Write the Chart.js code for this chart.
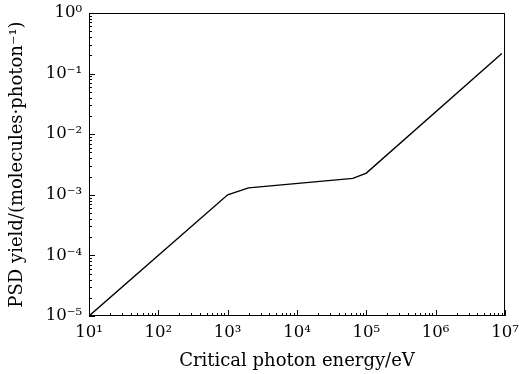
<!DOCTYPE html>
<html>
<head>
<meta charset="utf-8">
<script src="https://cdn.jsdelivr.net/npm/chart.js@4/dist/chart.umd.min.js"></script>
<style>
  html, body { margin: 0; padding: 0; background: #fff; }
  #wrap { width: 519px; height: 374px; }
</style>
</head>
<body>
<div id="wrap"><canvas id="psdChart" width="519" height="374"></canvas></div>
<script>
// ---- data ----
const energy = [10, 1000, 2000, 64000, 100000, 9000000];          // eV
const psdYield = [1e-5, 1e-3, 1.3e-3, 1.87e-3, 2.28e-3, 0.215];   // molecules/photon

// ---- axis ticks ----
const xDecades = [1, 2, 3, 4, 5, 6, 7];
const yDecades = [-5, -4, -3, -2, -1, 0];
const minorSteps = [1, 2, 3, 4, 5, 6, 7, 8, 9];

const supMap = { '0': '⁰', '1': '¹', '2': '²', '3': '³', '4': '⁴', '5': '⁵', '6': '⁶', '7': '⁷', '8': '⁸', '9': '⁹', '-': '⁻' };
function powLabel(e) {
  return '10' + String(e).split('').map(c => supMap[c]).join('');
}

function buildTicks(decades) {
  const out = [];
  decades.forEach((d, i) => {
    if (i === decades.length - 1) {
      out.push({ value: Math.pow(10, d), major: true });
      return;
    }
    minorSteps.forEach(m => {
      out.push({ value: m * Math.pow(10, d), major: m === 1 });
    });
  });
  return out;
}

function labelFor(value) {
  const e = Math.round(Math.log10(value));
  return Math.abs(value - Math.pow(10, e)) < 1e-9 * Math.pow(10, e) ? powLabel(e) : '';
}

const FONT = "'DejaVu Serif', 'Liberation Serif', serif";

// frame + inward ticks drawn from the scales
const frameTicks = {
  id: 'frameTicks',
  afterDraw(chart) {
    const { ctx, chartArea: a, scales } = chart;
    ctx.save();
    ctx.strokeStyle = '#000';
    ctx.lineWidth = 1;
    ctx.strokeRect(a.left + 0.5, a.top + 0.5, a.right - a.left - 1, a.bottom - a.top - 1);
    ctx.beginPath();
    scales.x.ticks.forEach(t => {
      const px = Math.round(scales.x.getPixelForValue(t.value)) + 0.5;
      const len = t.major ? 6 : 3;
      ctx.moveTo(px, a.bottom);
      ctx.lineTo(px, a.bottom - len);
    });
    scales.y.ticks.forEach(t => {
      const py = Math.round(scales.y.getPixelForValue(t.value)) + 0.5;
      const len = t.major ? 6 : 3;
      ctx.moveTo(a.left, py);
      ctx.lineTo(a.left + len, py);
    });
    ctx.stroke();
    ctx.restore();
  }
};

new Chart(document.getElementById('psdChart'), {
  type: 'line',
  data: {
    datasets: [{
      data: energy.map((e, i) => ({ x: e, y: psdYield[i] })),
      borderColor: '#000',
      borderWidth: 1.4,
      pointRadius: 0,
      tension: 0,
      fill: false
    }]
  },
  options: {
    responsive: false,
    animation: false,
    layout: { padding: { left: 7, right: 14, top: 13, bottom: 2 } },
    plugins: { legend: { display: false }, tooltip: { enabled: false } },
    scales: {
      x: {
        type: 'logarithmic',
        min: 10,
        max: 1e7,
        afterBuildTicks: s => { s.ticks = buildTicks(xDecades); },
        afterFit: s => { s.height = 56; s.paddingLeft = 0; s.paddingRight = 0; },
        grid: { display: false, drawTicks: false },
        border: { display: false },
        ticks: {
          autoSkip: false,
          maxRotation: 0,
          padding: 7,
          color: '#000',
          font: { family: FONT, size: 16.5 },
          callback: v => labelFor(v)
        },
        title: {
          display: true,
          text: 'Critical photon energy/eV',
          color: '#000',
          font: { family: FONT, size: 18 },
          padding: { top: 4, bottom: 0 }
        }
      },
      y: {
        type: 'logarithmic',
        min: 1e-5,
        max: 1,
        afterBuildTicks: s => { s.ticks = buildTicks(yDecades); },
        afterFit: s => { s.width = 82; s.paddingTop = 0; s.paddingBottom = 0; },
        grid: { display: false, drawTicks: false },
        border: { display: false },
        ticks: {
          autoSkip: false,
          padding: 7,
          color: '#000',
          font: { family: FONT, size: 16.5 },
          callback: v => labelFor(v)
        },
        title: {
          display: true,
          text: 'PSD yield/(molecules·photon⁻¹)',
          color: '#000',
          font: { family: FONT, size: 18 },
          padding: { top: 0, bottom: 2 }
        }
      }
    }
  },
  plugins: [frameTicks]
});
</script>
</body>
</html>
